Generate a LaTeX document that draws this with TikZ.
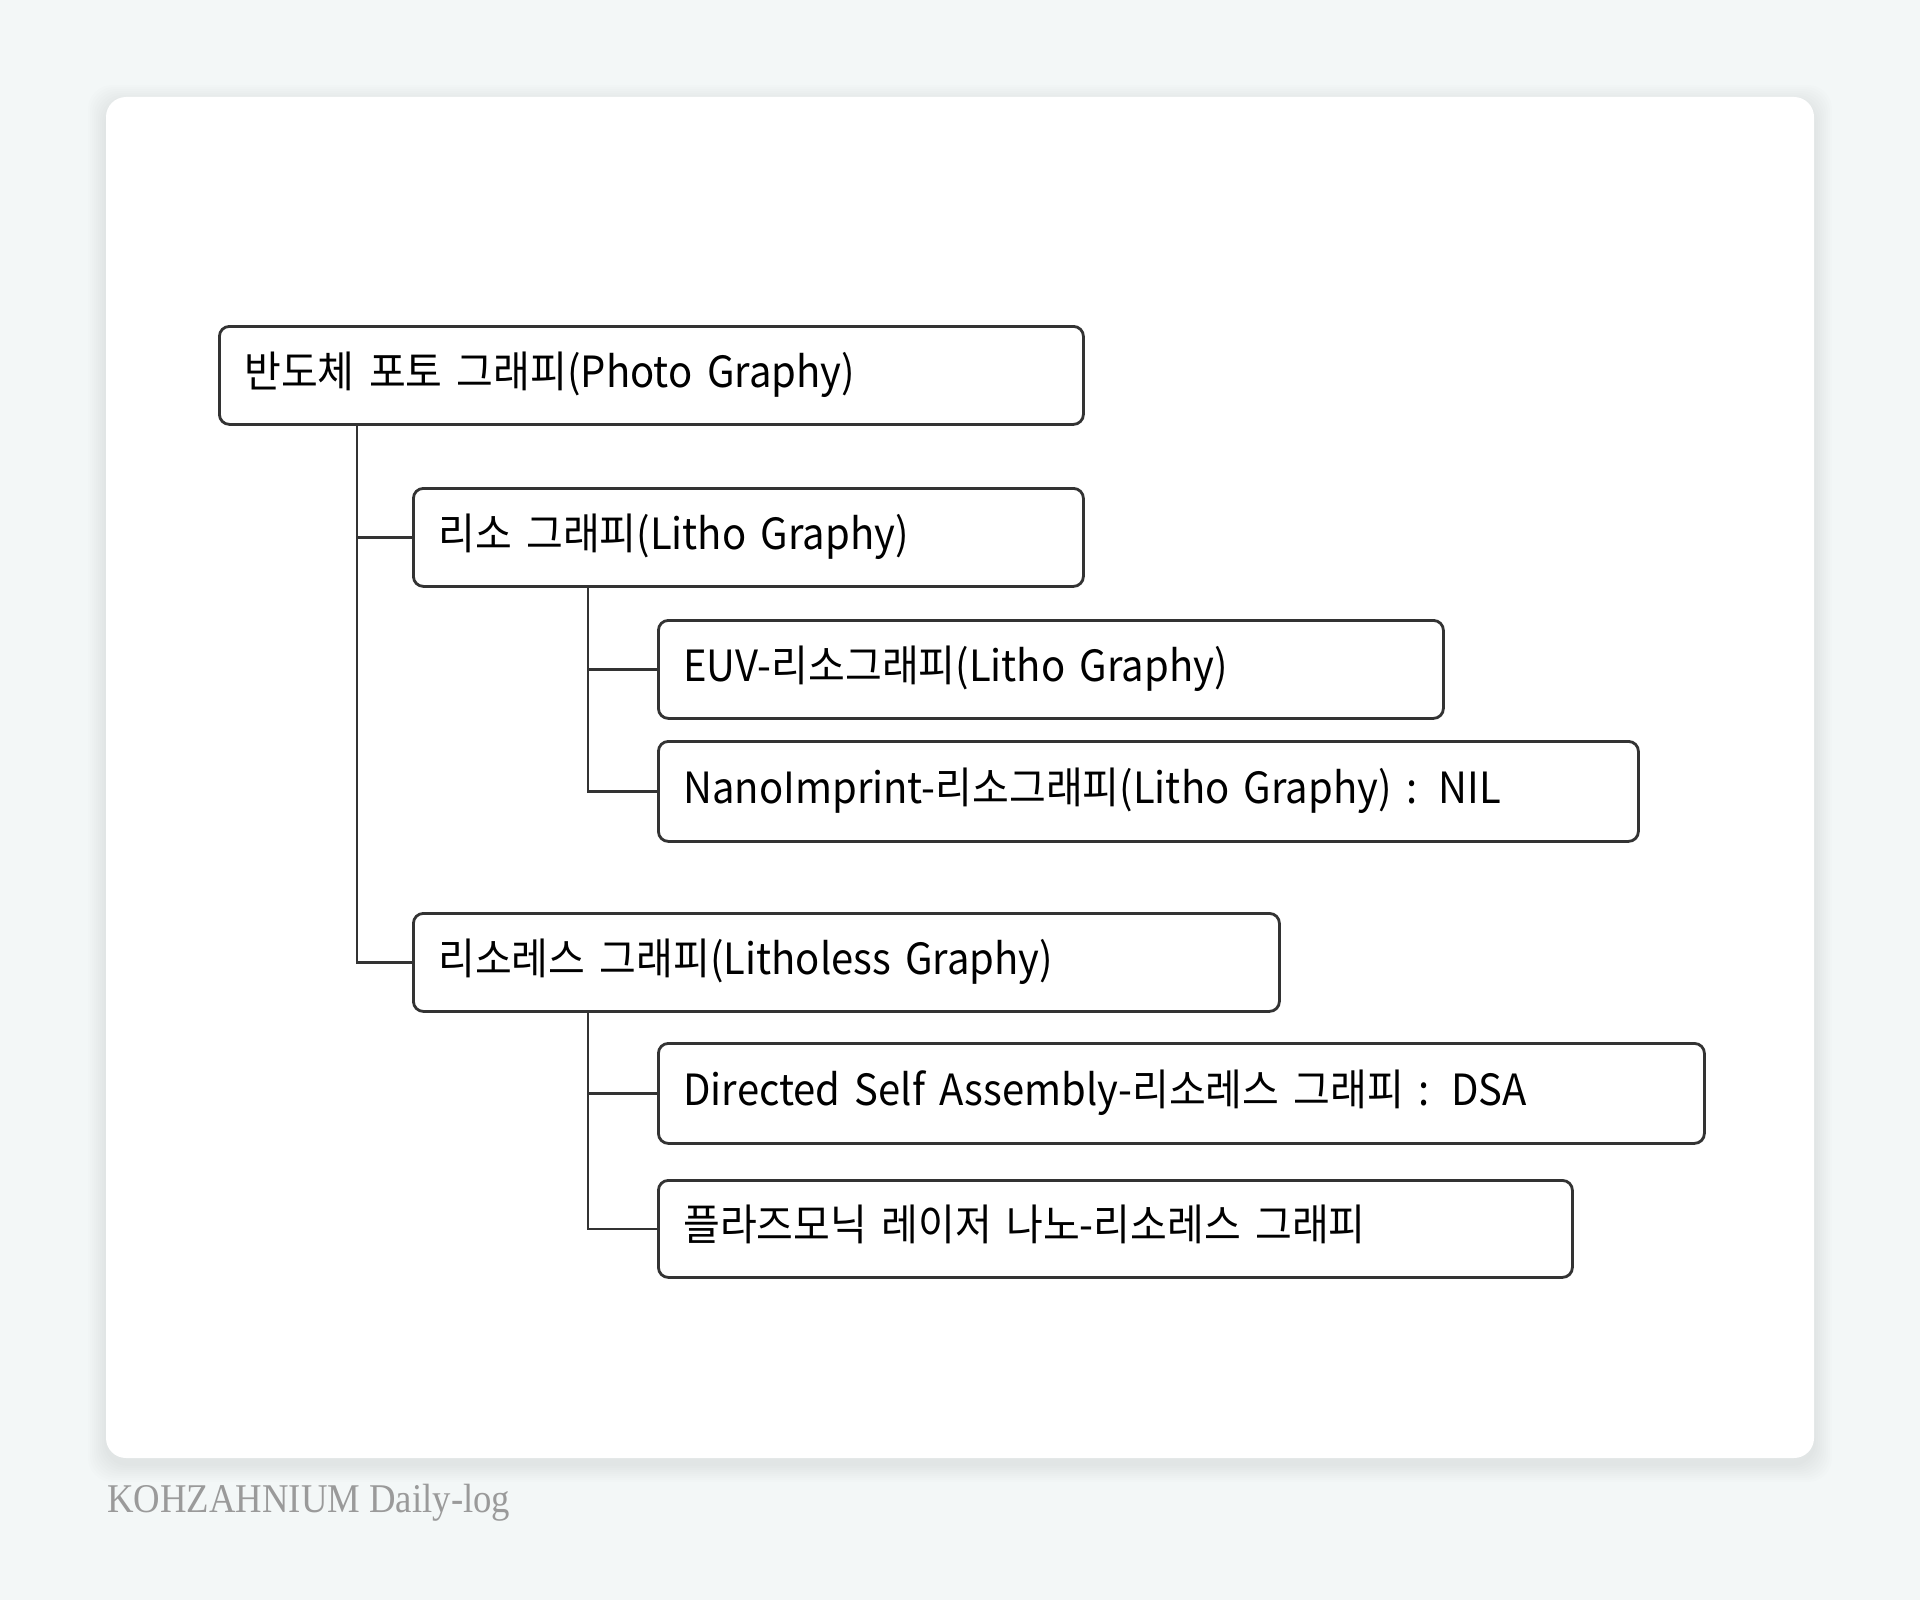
\documentclass[tikz,border=0pt]{standalone}
\usepackage{fontspec}
\newfontfamily\krfont[FakeStretch=0.93]{Noto Sans CJK KR}
\newfontfamily\capfont[FakeStretch=0.9]{Liberation Serif}
\definecolor{page-bg}{HTML}{F3F7F7}
\definecolor{box-line}{HTML}{333333}
\definecolor{cap-grey}{HTML}{9A9A9A}

\begin{document}
\begin{tikzpicture}[x=0.5pt, y=-0.5pt,
      every node/.style={font=\krfont\fontsize{21.5}{24}\selectfont},
      entry/.style={draw=box-line, line width=1.4pt, rounded corners=5pt, fill=white,
          anchor=north west, minimum height=49pt, inner xsep=12.5pt, inner ysep=0pt,
          text height=17.6pt, text depth=5.6pt, align=left},
      link/.style={draw=box-line, line width=1.1pt}]
    % page and card
    \fill[page-bg] (0,0) rectangle (1920,1600);
    \useasboundingbox (0,0) rectangle (1920,1600);
    \foreach \s in {2,4,...,18} {
      \fill[black, opacity=0.007, rounded corners=12pt] (106-\s,97-\s+6) rectangle (1814+\s,1458+\s+6);
    }
    \fill[white, rounded corners=10pt] (106,97) rectangle (1814,1458);

    \node[entry, text width=407pt] (photo) at (218,325) {반도체 포토 그래피(Photo Graphy)};
    \node[entry, text width=310pt] (litho) at (412,487) {리소 그래피(Litho Graphy)};
    \node[entry, text width=367.5pt] (euv) at (657,619) {EUV-리소그래피(Litho Graphy)};
    \node[entry, text width=465pt, minimum height=50pt] (nil) at (657,740) {NanoImprint-리소그래피(Litho Graphy) : NIL};
    \node[entry, text width=408pt] (litholess) at (412,912) {리소레스 그래피(Litholess Graphy)};
    \node[entry, text width=498pt, minimum height=50pt] (dsa) at (657,1042) {Directed Self Assembly-리소레스 그래피 : DSA};
    \node[entry, text width=432pt, minimum height=48.5pt] (plasmonic) at (657,1179) {플라즈모닉 레이저 나노-리소레스 그래피};

    \draw[link] (photo.south west) ++(139,0) |- (litho.west);
    \draw[link] (photo.south west) ++(139,0) |- (litholess.west);
    \draw[link] (litho.south west) ++(176,0) |- (euv.west);
    \draw[link] (litho.south west) ++(176,0) |- (nil.west);
    \draw[link] (litholess.south west) ++(176,0) |- (dsa.west);
    \draw[link] (litholess.south west) ++(176,0) |- (plasmonic.west);

    \node[font=\capfont\fontsize{20.4}{22}\selectfont, text=cap-grey, anchor=base west,
          inner sep=0pt] (caption) at (107,1512) {KOHZAHNIUM Daily-log};
  \end{tikzpicture}
\end{document}
